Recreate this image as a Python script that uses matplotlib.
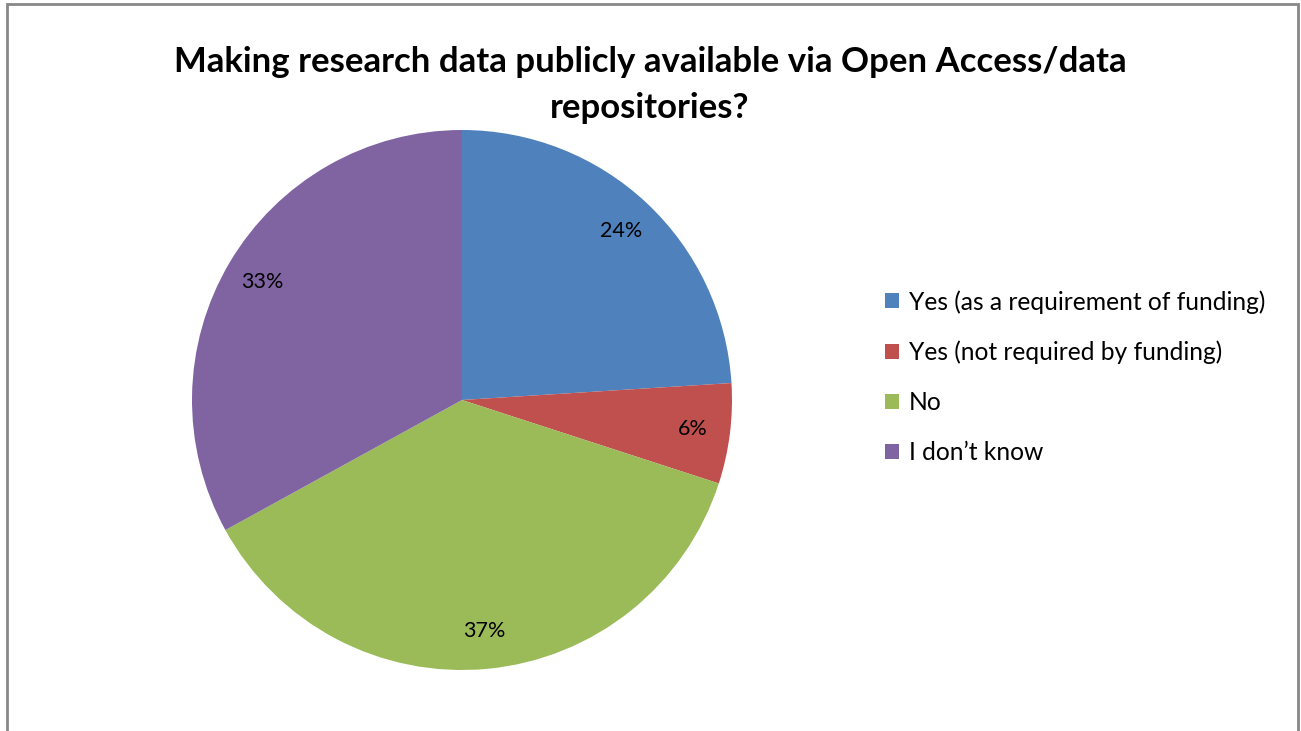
import matplotlib
matplotlib.use("Agg")
import matplotlib.pyplot as plt
from matplotlib.patches import Rectangle

plt.rcParams['font.family'] = ['Lato', 'DejaVu Sans']

categories = ["Yes (as a requirement of funding)",
              "Yes (not required by funding)",
              "No",
              "I don\u2019t know"]
shares = [24, 6, 37, 33]
colors = ["#4F81BD", "#C0504D", "#9BBB59", "#8064A2"]
title = "Making research data publicly available via Open Access/data\nrepositories?"

W, H = 1301, 731
fig = plt.figure(figsize=(W / 100, H / 100), dpi=100)
fig.patch.set_facecolor("white")

# outer frame
fig.add_artist(Rectangle((7 / W, -0.01), (1298 - 7) / W, (H - 4) / H + 0.01,
                         transform=fig.transFigure, fill=False,
                         edgecolor="#888888", linewidth=2))

ax = fig.add_axes([192 / W, 61 / H, 540 / W, 540 / H])
wedges, texts, autotexts = ax.pie(
    shares, colors=colors, startangle=90, counterclock=False,
    autopct=lambda p: f"{p:.0f}%", pctdistance=0.86,
    wedgeprops=dict(linewidth=0),
    textprops=dict(fontsize=15.5, color="black"))
ax.set_xlim(-1, 1)
ax.set_ylim(-1, 1)
ax.set_aspect("equal")
ax.axis("off")

fig.text(650 / W, 1 - 85 / H, title, ha="center", va="center",
         fontsize=25, fontweight="bold", linespacing=1.5)

fig.legend(wedges, categories, loc="upper left",
           bbox_to_anchor=(885 / W, 1 - 290 / H), frameon=False,
           fontsize=17.7, handlelength=0.57, handleheight=0.57,
           handletextpad=0.4, labelspacing=1.1, borderaxespad=0,
           borderpad=0)

fig.savefig("out.png", dpi=100)
